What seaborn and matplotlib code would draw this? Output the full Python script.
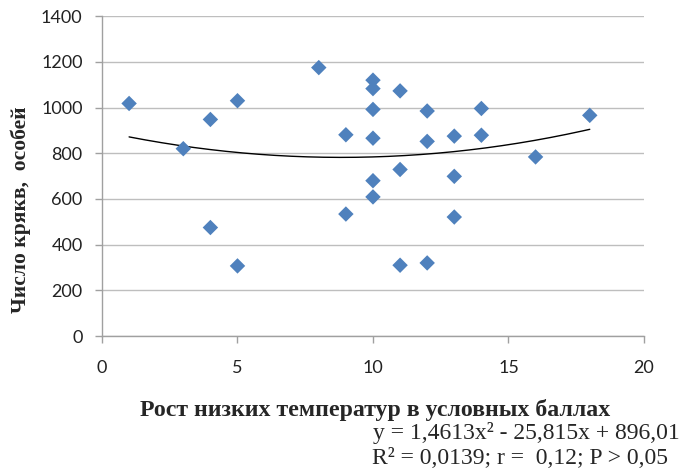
import numpy as np
import pandas as pd
import seaborn as sns
import matplotlib
matplotlib.use("Agg")
import matplotlib.pyplot as plt

# Data
temp_scores = [1, 3, 4, 4, 5, 5, 8, 9, 9,
               10, 10, 10, 10, 10, 10,
               11, 11, 11, 12, 12, 12, 13, 13, 13, 14, 14, 16, 18]
duck_counts = [1018, 820, 948, 475, 1030, 307, 1175, 881, 534,
               1120, 1083, 992, 866, 680, 609,
               1073, 729, 310, 985, 852, 320, 875, 699, 521, 996, 879, 784, 966]

# Quadratic trend coefficients (as printed on the chart)
coef_a, coef_b, coef_c = 1.4613, -25.815, 896.01

x_ticks = [0, 5, 10, 15, 20]
y_ticks = [0, 200, 400, 600, 800, 1000, 1200, 1400]

x_label = "Рост низких температур в условных баллах"
y_label = "Число крякв,  особей"
eq_line1 = "y = 1,4613x² - 25,815x + 896,01"
eq_line2 = "R² = 0,0139; r =  0,12; P > 0,05"

df = pd.DataFrame({"x": temp_scores, "y": duck_counts})
trend_x = np.linspace(min(temp_scores), max(temp_scores), 200)
trend_df = pd.DataFrame({"x": trend_x, "y": coef_a * trend_x**2 + coef_b * trend_x + coef_c})

sns.set_theme(style="white")
plt.rcParams["font.family"] = ["Lato", "DejaVu Sans"]

fig = plt.figure(figsize=(6.8, 4.76), dpi=100)
ax = fig.add_axes([0.150, 0.294, 0.797, 0.672])

sns.lineplot(data=trend_df, x="x", y="y", ax=ax, color="black", linewidth=1.0, zorder=2)
sns.scatterplot(data=df, x="x", y="y", ax=ax, marker="D", s=62, color="#4F81BD",
                edgecolor="none", linewidth=0, zorder=3)

ax.set_xlim(0, 20)
ax.set_ylim(0, 1400)
ax.set_xticks(x_ticks)
ax.set_yticks(y_ticks)
ax.set_xticklabels([str(t) for t in x_ticks])
ax.set_yticklabels([str(t) for t in y_ticks])
ax.yaxis.grid(True, color="#BEBEBE", linewidth=1.0)
ax.xaxis.grid(False)
ax.set_axisbelow(True)
for side in ["top", "right"]:
    ax.spines[side].set_visible(False)
for side in ["left", "bottom"]:
    ax.spines[side].set_color("#A0A0A0")
    ax.spines[side].set_linewidth(1.0)
ax.tick_params(axis="both", which="major", direction="out", length=5, width=1.0,
               color="#A0A0A0", labelsize=13, labelcolor="#222222", left=True, bottom=True)
ax.tick_params(axis="x", pad=12)
ax.tick_params(axis="y", pad=9)

ax.set_xlabel("")
ax.set_ylabel("")
fig.text(0.552, 0.138, x_label, ha="center", va="center", fontsize=17.2,
         fontweight="bold", family=["Liberation Serif"])
fig.text(0.030, 0.559, y_label, ha="center", va="center", rotation=90, fontsize=15.5,
         fontweight="bold", family=["Liberation Serif"])
fig.text(0.999, 0.090, eq_line1, ha="right", va="center", fontsize=17,
         family=["Liberation Serif"])
fig.text(0.982, 0.036, eq_line2, ha="right", va="center", fontsize=17,
         family=["Liberation Serif"])

fig.savefig("out.png", dpi=100)
